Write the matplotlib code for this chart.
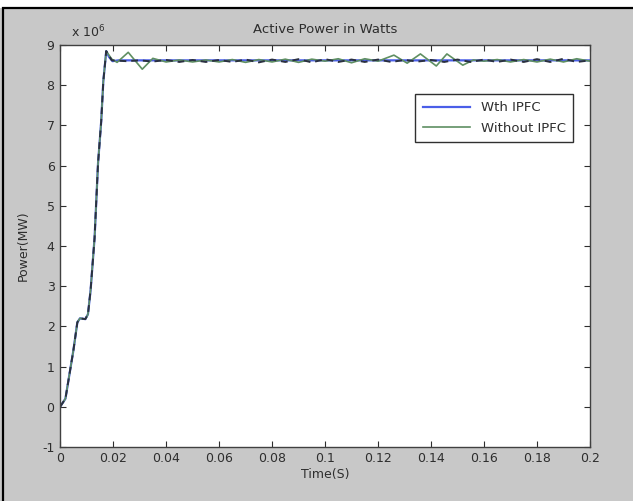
import matplotlib.pyplot as plt
from matplotlib.patches import Rectangle

plt.rcParams['font.family'] = ['DejaVu Sans']
plt.rcParams['axes.unicode_minus'] = False

# values, power in units of 1e6 W
t_rise = [0, 0.002, 0.005, 0.0065, 0.0075, 0.0095, 0.0105, 0.0115,
          0.013, 0.0143, 0.0155, 0.0163, 0.0174]
p_rise = [0, 0.2, 1.4, 2.1, 2.2, 2.18, 2.3, 2.9,
          4.2, 6.05, 7.1, 8.1, 8.85]

t_ipfc = t_rise + [0.0185, 0.0198, 0.022, 0.03, 0.05, 0.08, 0.1, 0.13, 0.16, 0.2]
p_ipfc = p_rise + [8.7, 8.6, 8.62, 8.62, 8.62, 8.62, 8.62, 8.62, 8.62, 8.62]

t_noipfc = t_rise + [0.0195, 0.0215, 0.0257, 0.031, 0.035, 0.040, 0.045,
                     0.050, 0.055, 0.060, 0.065, 0.070, 0.075, 0.080,
                     0.085, 0.090, 0.095, 0.100, 0.105, 0.110, 0.115,
                     0.120, 0.126, 0.131, 0.136, 0.142, 0.146, 0.152,
                     0.156, 0.160, 0.165, 0.170, 0.175, 0.180, 0.185,
                     0.190, 0.195, 0.2]
p_noipfc = p_rise + [8.65, 8.57, 8.82, 8.4, 8.67, 8.58, 8.63,
                     8.58, 8.63, 8.58, 8.64, 8.57, 8.64, 8.58,
                     8.65, 8.57, 8.65, 8.6, 8.66, 8.56, 8.66,
                     8.6, 8.75, 8.55, 8.78, 8.48, 8.78, 8.5,
                     8.63, 8.6, 8.64, 8.58, 8.64, 8.58, 8.65,
                     8.58, 8.66, 8.6]

t_dash = t_rise + [0.0195, 0.025, 0.030, 0.035, 0.040, 0.045, 0.050,
                   0.055, 0.060, 0.065, 0.070, 0.075, 0.080, 0.085,
                   0.090, 0.095, 0.100, 0.105, 0.110, 0.115, 0.120,
                   0.125, 0.130, 0.135, 0.140, 0.145, 0.150, 0.155,
                   0.160, 0.165, 0.170, 0.175, 0.180, 0.185, 0.190,
                   0.195, 0.2]
p_dash = p_rise + [8.62, 8.6, 8.62, 8.59, 8.63, 8.58, 8.63,
                   8.58, 8.63, 8.58, 8.64, 8.57, 8.64, 8.58,
                   8.65, 8.57, 8.65, 8.58, 8.64, 8.58, 8.64,
                   8.58, 8.63, 8.59, 8.63, 8.58, 8.64, 8.58,
                   8.64, 8.58, 8.64, 8.58, 8.65, 8.58, 8.66,
                   8.58, 8.62]

xticks = [0, 0.02, 0.04, 0.06, 0.08, 0.1, 0.12, 0.14, 0.16, 0.18, 0.2]
xticklabels = ['0', '0.02', '0.04', '0.06', '0.08', '0.1', '0.12',
               '0.14', '0.16', '0.18', '0.2']
yticks = list(range(-1, 10))

bg = '#c8c8c8'
txtc = '#2e2e2e'
fig = plt.figure(figsize=(6.33, 5.01), dpi=100, facecolor=bg)

# caption strip and frame of the scanned figure
fig.patches.append(Rectangle((0, 0.985), 1, 0.015, transform=fig.transFigure,
                             facecolor='white', edgecolor='none', zorder=0))
fig.patches.append(Rectangle((0.004, -0.01), 1.0, 0.995, transform=fig.transFigure,
                             facecolor='none', edgecolor='black', lw=1.6, zorder=1))

ax = fig.add_axes([0.095, 0.108, 0.837, 0.802])
ax.plot(t_ipfc, p_ipfc, color='#4a5ee8', lw=1.6, label='Wth IPFC')
ax.plot(t_noipfc, p_noipfc, color='#5f8f62', lw=1.2, label='Without IPFC')
ax.plot(t_dash, p_dash, color='#2a3040', lw=1.4, ls=(0, (3.5, 2.5)))

ax.set_xlim(0, 0.2)
ax.set_ylim(-1, 9)
ax.set_xticks(xticks)
ax.set_xticklabels(xticklabels)
ax.set_yticks(yticks)
ax.tick_params(direction='in', top=True, right=True, length=4,
               labelsize=9, colors=txtc, width=0.8, pad=4)
for s in ax.spines.values():
    s.set_color('#404040')
    s.set_linewidth(1.0)

ax.set_title('Active Power in Watts', fontsize=9.5, color=txtc, pad=9)
ax.set_xlabel('Time(S)', fontsize=9, color=txtc, labelpad=2)
ax.set_ylabel('Power(MW)', fontsize=9, color=txtc, labelpad=9)
ax.text(0.02, 1.012, r'x 10$^{6}$', transform=ax.transAxes, fontsize=9,
        color=txtc, ha='left', va='bottom')

leg = ax.legend(loc='upper right', bbox_to_anchor=(0.968, 0.878), fontsize=9.5,
                fancybox=False, framealpha=1, edgecolor='#303030',
                handlelength=3.6, borderpad=0.55, labelspacing=0.55,
                borderaxespad=0)
leg.get_frame().set_linewidth(1.0)
for txt in leg.get_texts():
    txt.set_color(txtc)

fig.savefig('out.png', dpi=100, facecolor=bg)
